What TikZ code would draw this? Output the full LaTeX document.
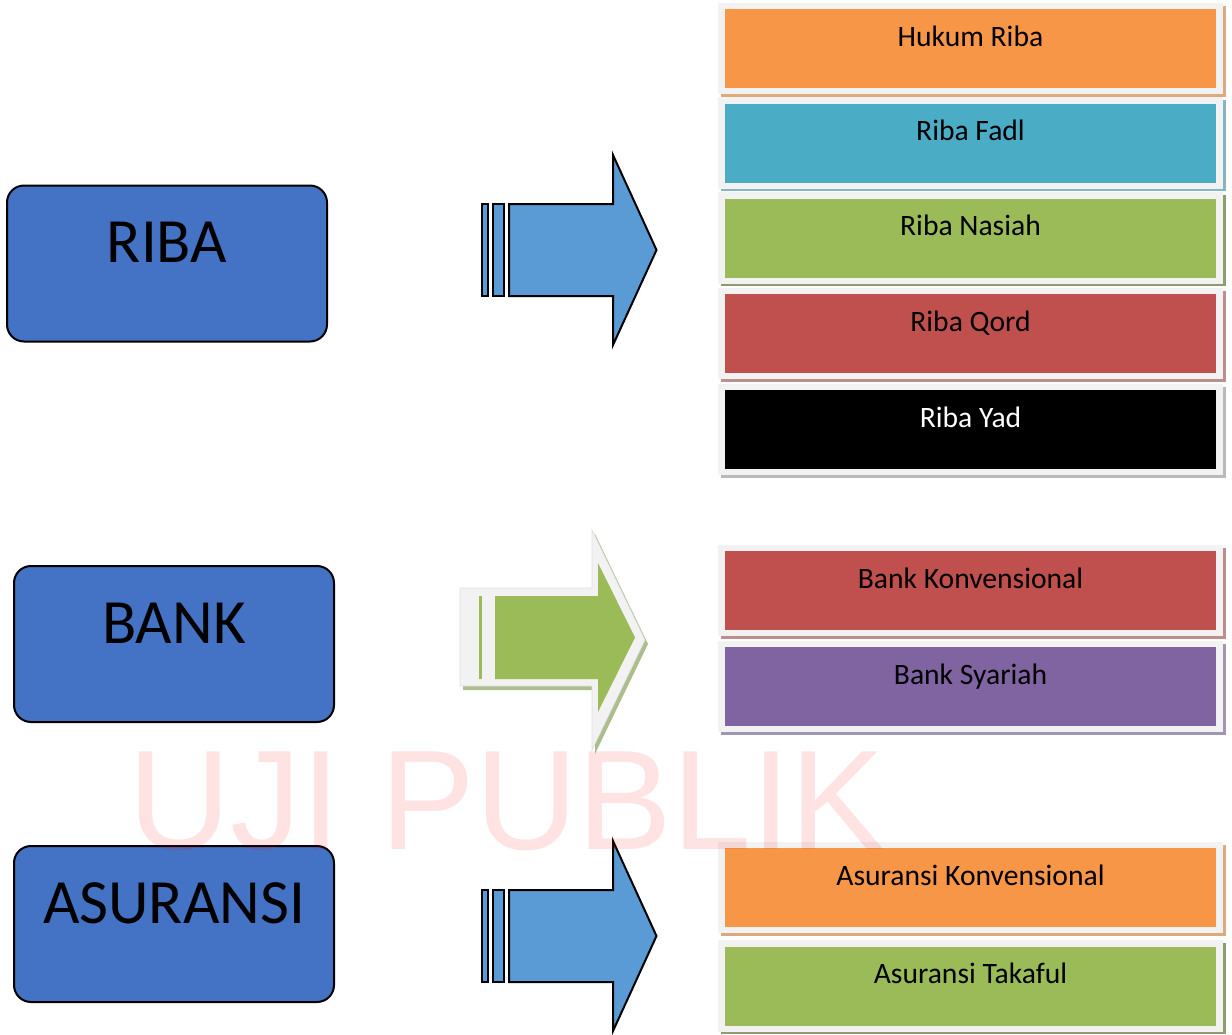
\documentclass[tikz,border=0pt]{standalone}
\usepackage{fontspec}
\setmainfont{Carlito}
\newfontfamily\markfont{Liberation Sans}
\usetikzlibrary{backgrounds,calc}
\definecolor{boxblue}{HTML}{4472C4}
\definecolor{arrowblue}{HTML}{5B9BD5}
\definecolor{ribaorange}{HTML}{F79646}
\definecolor{ribateal}{HTML}{4BACC6}
\definecolor{ribagreen}{HTML}{9BBB59}
\definecolor{ribared}{HTML}{C0504D}
\definecolor{ribapurple}{HTML}{8064A2}
\definecolor{cellgray}{HTML}{F2F2F2}
\begin{document}
\begin{tikzpicture}[x=1pt,y=-1pt,
  topic/.style={draw=black,line width=2pt,fill=boxblue,rounded corners=17pt,
    minimum width=320pt,inner xsep=0pt,inner ysep=0pt,text height=77pt,text depth=79pt,
    font=\fontsize{63}{70}\selectfont},
  listitem/.style={fill=#1,minimum width=491pt,inner xsep=0pt,inner ysep=0pt,
    text height=37pt,text depth=42pt,font=\fontsize{29.6}{33}\selectfont},
  blockarrow/.style={fill=arrowblue,draw=black,line width=2pt,line join=miter}]
\useasboundingbox (0,0) rectangle (1232,1034);
% topics
\node[topic] (riba) at (167,263.5) {RIBA};
\node[topic] (bank) at (174,644) {BANK};
\node[topic] (asuransi) at (174,924) {ASURANSI};
% lists
\node[listitem=ribaorange] (hukum) at (970.5,48.5) {Hukum Riba};
\node[listitem=ribateal] (fadl) at (970.5,143) {Riba Fadl};
\node[listitem=ribagreen] (nasiah) at (970.5,238) {Riba Nasiah};
\node[listitem=ribared] (qord) at (970.5,333.5) {Riba Qord};
\node[listitem=black,text=white] (yad) at (970.5,429.5) {Riba Yad};
\node[listitem=ribared] (konv) at (970.5,590.5) {Bank Konvensional};
\node[listitem=ribapurple] (syariah) at (970.5,686.5) {Bank Syariah};
\node[listitem=ribaorange] (askonv) at (970.5,887.5) {Asuransi Konvensional};
\node[listitem=ribagreen] (takaful) at (970.5,986) {Asuransi Takaful};
\begin{pgfonlayer}{background}
\foreach \n/\s in {hukum/ribaorange!55!lightgray,fadl/ribateal!50!lightgray,
    nasiah/ribagreen!50!gray,qord/ribared!45!lightgray,yad/gray!55,
    konv/ribared!45!lightgray,syariah/ribapurple!45!lightgray,
    askonv/ribaorange!55!lightgray,takaful/ribagreen!50!gray}{
  \fill[\s] ($(\n.north west)+(-4,-3)$) rectangle ($(\n.south east)+(9.5,8.5)$);
  \fill[cellgray] ($(\n.north west)+(-7,-6)$) rectangle ($(\n.south east)+(7,6)$);
}
\end{pgfonlayer}
% riba arrow
\begin{scope}[shift={(0,250)}]
\draw[blockarrow] (481.5,-46) rectangle (488,46);
\draw[blockarrow] (492.5,-46) rectangle (504,46);
\draw[blockarrow] (509,-46) -- (613,-46) -- (613,-95) -- (656.5,0) -- (613,95) -- (613,46) -- (509,46) -- cycle;
\end{scope}
% bank arrow
\fill[ribagreen!50!lightgray] (463,592) -- (595,592) -- (595,534) -- (648,644) -- (595,754) -- (595,690) -- (463,690) -- cycle;
\filldraw[fill=cellgray,draw=gray!25,line width=0.6pt] (460,588) -- (592,588) -- (592,530) -- (645,640) -- (592,750) -- (592,686) -- (460,686) -- cycle;
\fill[ribagreen] (479,596) rectangle (482,679);
\fill[ribagreen] (495,596) -- (598,596) -- (598,563) -- (635,637.5) -- (598,712) -- (598,679) -- (495,679) -- cycle;
% asuransi arrow
\begin{scope}[shift={(0,936)}]
\draw[blockarrow] (481.5,-46) rectangle (488,46);
\draw[blockarrow] (492.5,-46) rectangle (504,46);
\draw[blockarrow] (509,-46) -- (613,-46) -- (613,-95) -- (656.5,0) -- (613,95) -- (613,46) -- (509,46) -- cycle;
\end{scope}
% watermark
\node[anchor=base west,inner sep=0pt,text=red,text opacity=0.11,
  font=\markfont\fontsize{142}{150}\selectfont] (mark) at (128,849) {UJI PUBLIK};
\end{tikzpicture}
\end{document}
